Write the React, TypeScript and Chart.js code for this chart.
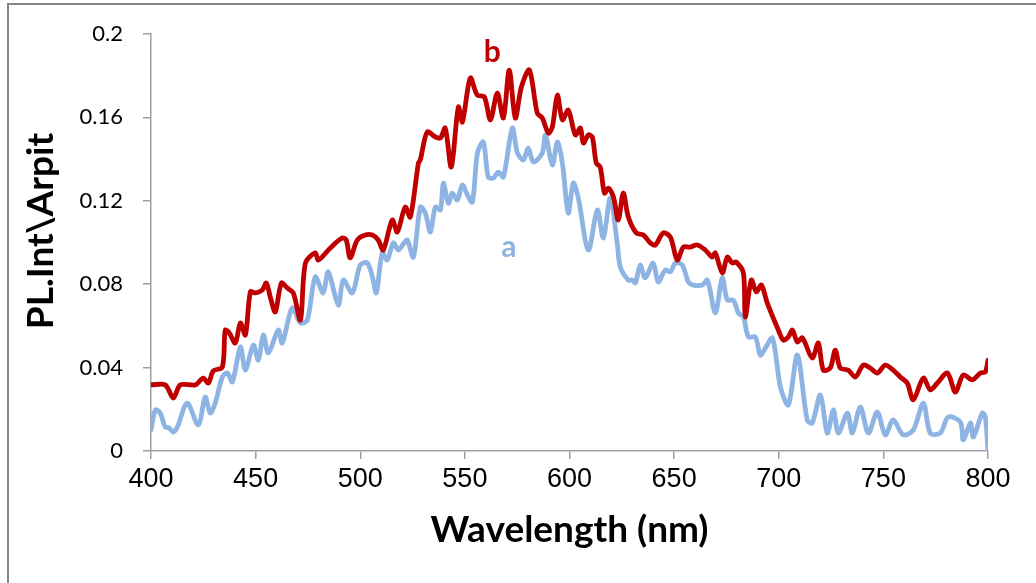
import React, { useEffect, useRef } from "react";
import { Chart, registerables } from "chart.js";

Chart.register(...registerables);

// Series b (red)
const bWavelengths = [400,406.8,410.7,414,421.2,425,427.4,429.8,434.1,435.5,437.4,440.3,442.7,445.1,447.5,449.9,453.2,455.1,457,459.4,462.3,465.1,468,471.4,473.8,478.5,480,485.7,491.4,493.3,495.2,498.6,502.4,505.8,508.6,511,515.3,517.7,521.5,523.9,527.8,528.7,532,535.9,538.3,540.6,543.5,546.9,548.8,552.6,555.9,559.3,562.2,565.5,568.4,571.2,574.1,577,580.8,584.6,587,589.9,591.8,594.2,596.6,599.4,602.8,605.2,606.6,609,610.9,612.8,614.7,616.7,618.6,621,623.3,625.7,628.1,631.9,635.3,638.6,641,644.8,648.2,651.5,654.4,657.7,661.1,664.9,668.2,669.7,673,675.4,677.8,679.7,683.1,684,686.9,689.3,691.7,694.5,699.8,702.2,704.6,706.5,708.9,711.3,716,718.9,721.3,724.6,727,729.4,733.2,736.6,740.4,743.7,747.1,750.9,754.7,758.1,761.4,764.3,769.1,772.4,775.8,780.6,784.4,788.2,792.5,796.4,798.7,800];
const bValues = [0.0317,0.0317,0.0254,0.0317,0.0317,0.035,0.0326,0.0384,0.0403,0.058,0.0566,0.0518,0.0614,0.0556,0.0763,0.0758,0.0772,0.0806,0.0739,0.0667,0.0806,0.0782,0.0758,0.0628,0.0902,0.095,0.0916,0.0974,0.1022,0.1012,0.0926,0.1012,0.1036,0.1036,0.1012,0.0964,0.1108,0.105,0.117,0.1122,0.1381,0.1396,0.153,0.1506,0.1501,0.1549,0.1362,0.165,0.1578,0.1789,0.1707,0.1698,0.1588,0.1717,0.1597,0.1827,0.1597,0.1746,0.1827,0.1621,0.1597,0.1525,0.1554,0.1707,0.1588,0.1635,0.1516,0.1549,0.1477,0.1516,0.1506,0.1381,0.1362,0.1237,0.1261,0.1218,0.1108,0.1237,0.1122,0.1046,0.1036,0.0998,0.0988,0.1046,0.1026,0.0916,0.0978,0.0978,0.0988,0.0964,0.093,0.095,0.0854,0.093,0.0902,0.0906,0.0854,0.0643,0.082,0.0763,0.0796,0.071,0.058,0.0532,0.0547,0.058,0.0523,0.0542,0.0446,0.0518,0.0388,0.0398,0.0484,0.0398,0.0388,0.0355,0.0412,0.0398,0.0374,0.0412,0.0388,0.0355,0.0326,0.0245,0.035,0.0293,0.0326,0.0374,0.0283,0.0365,0.0341,0.0374,0.0379,0.0436];

// Series a (light blue)
const aWavelengths = [400,402.1,404.4,406.8,408.7,410.7,412.6,417.3,422.6,425.9,428.3,430.7,434.1,436.5,438.9,442.7,445.1,448.9,451.3,453.7,456.1,460.8,462.7,467.5,471.4,474.7,478.5,482.3,484.7,489.5,491.9,496.2,500,503.4,505.8,507.7,510.5,512.9,515.8,518.2,520.6,522.5,525.4,528.7,531.1,533.5,535.9,538.3,539.7,542.1,544,546.4,548.8,551.2,553.6,556,558.8,561.2,563.6,566,568.4,572.7,575.1,578,580.3,582.7,587,588.5,591.8,594.2,596.6,599.4,601.8,604.2,609,613.3,616.2,619.5,622.8,624.3,628.1,630,631.5,633.8,636.2,640,642.4,645.8,648.2,650.6,653.9,656.8,659.2,663.5,665.9,669.7,673,675.4,678.3,680.7,683.1,685.5,688.8,691.2,693.6,697,700.8,704.6,708.9,713.6,716,719.9,723.2,726.1,728.5,732.8,735.2,739,742.8,747.1,750.9,754.7,759.5,764.3,769.1,772.4,777.2,781,786.8,788.2,791.6,793,797.3,798.7,800];
const aValues = [0.0101,0.0197,0.0182,0.0115,0.011,0.0091,0.0115,0.023,0.0125,0.0259,0.0182,0.023,0.0355,0.0374,0.0331,0.0499,0.0388,0.0508,0.0436,0.0556,0.047,0.058,0.0518,0.0686,0.0614,0.0628,0.0835,0.0758,0.0859,0.07,0.082,0.0758,0.0892,0.0902,0.0835,0.0758,0.095,0.0916,0.0998,0.0964,0.0993,0.1012,0.093,0.117,0.1141,0.105,0.117,0.1156,0.1285,0.1189,0.1237,0.1204,0.1276,0.1228,0.1194,0.1429,0.1482,0.1314,0.1309,0.1338,0.1314,0.1549,0.1429,0.1396,0.1453,0.1386,0.1429,0.1516,0.1372,0.1482,0.1381,0.1141,0.1285,0.1213,0.0964,0.1156,0.1022,0.1213,0.0998,0.0882,0.082,0.082,0.0806,0.0892,0.083,0.0902,0.0811,0.0868,0.0859,0.0902,0.0892,0.0811,0.0796,0.0796,0.082,0.0662,0.083,0.0724,0.0724,0.0662,0.0643,0.0547,0.0547,0.046,0.0494,0.0542,0.0307,0.0221,0.046,0.0149,0.0134,0.0269,0.0086,0.0197,0.0086,0.0182,0.0086,0.0211,0.0086,0.0187,0.0077,0.0149,0.0077,0.0101,0.023,0.0086,0.0086,0.0163,0.0139,0.0053,0.0134,0.0067,0.0182,0.0163,0];

const xTickLabels = ["400", "450", "500", "550", "600", "650", "700", "750", "800"];
const yTickLabels = ["0", "0.04", "0.08", "0.12", "0.16", "0.2"];
const xTitle = "Wavelength (nm)";
const yTitle = "PL.Int\\Arpit";

const seriesLabels = [
  { text: "b", x: 563.1, y: 0.1866, color: "#C00000" },
  { text: "a", x: 571, y: 0.093, color: "#8EB4E3" },
];

const zip = (xs: number[], ys: number[]) =>
  xs.slice(0, Math.min(xs.length, ys.length)).map((x, i) => ({ x, y: ys[i] }));

const labelPlugin = {
  id: "seriesLabels",
  afterDatasetsDraw(chart: any) {
    const { ctx, scales, chartArea } = chart;
    ctx.save();
    ctx.font = "bold 30px Lato";
    ctx.textAlign = "center";
    ctx.textBaseline = "alphabetic";
    for (const l of seriesLabels) {
      ctx.fillStyle = l.color;
      ctx.fillText(l.text, scales.x.getPixelForValue(l.x), scales.y.getPixelForValue(l.y));
    }
    // y-axis title
    ctx.font = "bold 37px Lato";
    ctx.fillStyle = "#000";
    ctx.textBaseline = "middle";
    ctx.translate(chartArea.left - 110, chartArea.top + 197);
    ctx.rotate(-Math.PI / 2);
    ctx.fillText(yTitle, 0, 0);
    ctx.restore();
  },
};

export default function App() {
  const ref = useRef<HTMLCanvasElement | null>(null);
  useEffect(() => {
    if (!ref.current) return;
    const axisColor = "#a0a0a0";
    const chart = new Chart(ref.current, {
      type: "line",
      data: {
        datasets: [
          {
            label: "b",
            data: zip(bWavelengths, bValues),
            borderColor: "#C00000",
            borderWidth: 4.8,
            pointRadius: 0,
            tension: 0.3,
            borderJoinStyle: "round",
            borderCapStyle: "round",
            order: 0,
          },
          {
            label: "a",
            data: zip(aWavelengths, aValues),
            borderColor: "#8EB4E3",
            borderWidth: 4.8,
            pointRadius: 0,
            tension: 0.3,
            borderJoinStyle: "round",
            borderCapStyle: "round",
            order: 1,
          },
        ],
      },
      options: {
        animation: false,
        responsive: false,
        devicePixelRatio: 1,
        layout: { padding: { left: 0, top: 34, right: 48, bottom: 0 } },
        plugins: { legend: { display: false }, tooltip: { enabled: false } },
        scales: {
          x: {
            type: "linear",
            min: 400,
            max: 800,
            afterFit: (s: any) => { s.height = 132; },
            afterBuildTicks: (s: any) => {
              s.ticks = xTickLabels.map((t) => ({ value: Number(t) }));
            },
            ticks: {
              callback: (_v: any, i: number) => xTickLabels[i],
              font: { family: "Liberation Sans", size: 27 },
              color: "#000",
              padding: 4,
              maxRotation: 0,
            },
            grid: { display: true, drawOnChartArea: false, drawTicks: true, tickLength: 8, color: axisColor, lineWidth: 1.5 },
            border: { display: true, color: axisColor, width: 1.5 },
            title: {
              display: true,
              text: xTitle,
              font: { family: "Lato", size: 37, weight: "bold" },
              color: "#000",
              padding: { top: 0, bottom: 31 },
            },
          },
          y: {
            type: "linear",
            min: 0,
            max: 0.2,
            afterFit: (s: any) => { s.width = 151; },
            afterBuildTicks: (s: any) => {
              s.ticks = yTickLabels.map((t) => ({ value: Number(t) }));
            },
            ticks: {
              callback: (_v: any, i: number) => yTickLabels[i],
              font: { family: "Lato", size: 22 },
              color: "#000",
              padding: 20,
            },
            grid: { display: true, drawOnChartArea: false, drawTicks: true, tickLength: 8, color: axisColor, lineWidth: 1.5 },
            border: { display: true, color: axisColor, width: 1.5 },
            title: { display: false },
          },
        },
      },
      plugins: [labelPlugin],
    } as any);
    return () => chart.destroy();
  }, []);

  return (
    <div style={{ position: "fixed", left: 0, top: 0, width: 1036, height: 583, overflow: "hidden", background: "#fff" }}>
      <div style={{ position: "absolute", left: 7, top: 3, width: 1100, height: 700, border: "2px solid #868686" }} />
      <canvas ref={ref} width={1036} height={583} style={{ position: "absolute", left: 0, top: 0, width: 1036, height: 583 }} />
    </div>
  );
}
